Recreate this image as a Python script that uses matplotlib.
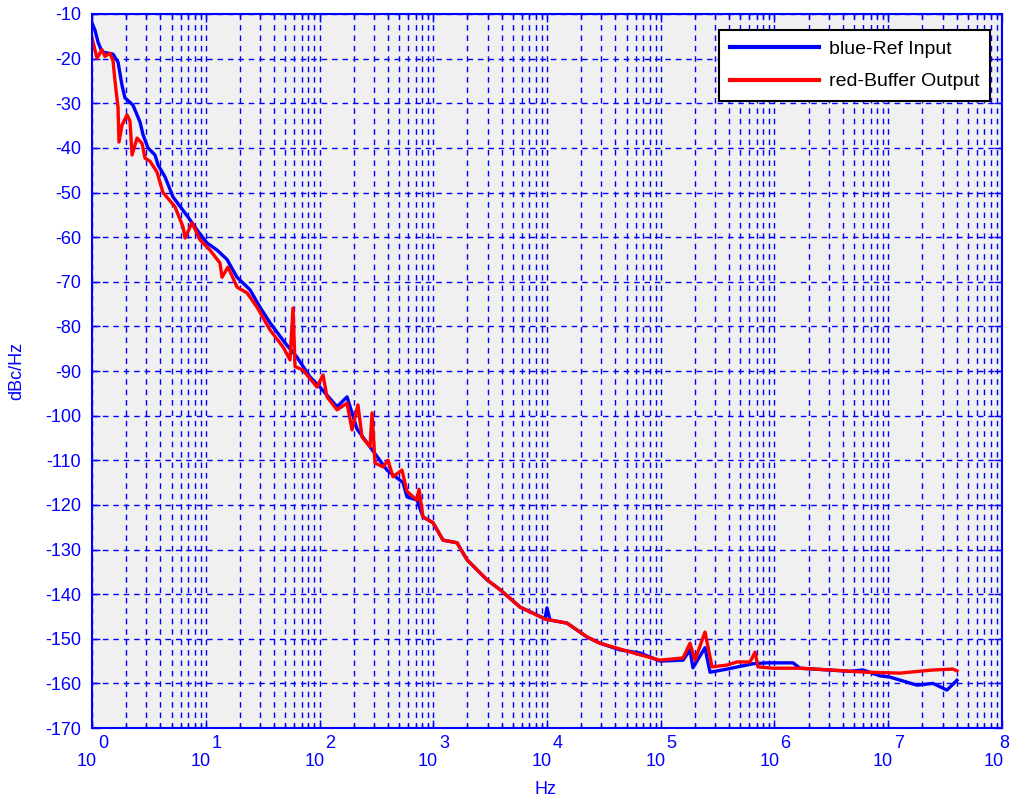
import numpy as np
import matplotlib
matplotlib.use("Agg")
import matplotlib.pyplot as plt
from matplotlib.ticker import LogLocator, NullFormatter, FixedLocator

plt.rcParams['font.family'] = ['Liberation Sans', 'DejaVu Sans']

# log10(frequency in Hz) and phase noise (dBc/Hz)
blue_logf = [0.0, 0.026, 0.053, 0.088, 0.185, 0.229, 0.264, 0.290, 0.360, 0.422,
             0.448, 0.492, 0.554, 0.580, 0.642, 0.712, 0.800, 0.844, 0.923, 1.011,
             1.099, 1.187, 1.275, 1.389, 1.477, 1.565, 1.697, 1.802, 1.916, 2.004,
             2.154, 2.242, 2.330, 2.444, 2.593, 2.734, 2.769, 2.857, 2.910, 2.998,
             3.086, 3.209, 3.297, 3.473, 3.587, 3.763, 3.982, 4.000, 4.026, 4.176,
             4.352, 4.466, 4.642, 4.818, 4.993, 5.196, 5.257, 5.283, 5.389, 5.433,
             5.582, 5.811, 5.934, 6.163, 6.224, 6.664, 6.778, 6.927, 7.015, 7.253,
             7.393, 7.516, 7.604]
blue_db = [-12.0, -13.6, -16.3, -18.5, -19.0, -20.8, -26.0, -28.8, -30.4, -34.2,
           -37.0, -40.0, -41.6, -43.8, -46.5, -51.0, -54.0, -55.5, -58.4, -61.3,
           -62.9, -65.0, -69.0, -71.8, -75.7, -79.2, -83.7, -86.9, -91.3, -93.6,
           -98.0, -95.8, -103.0, -107.0, -112.2, -115.0, -118.2, -118.9, -122.7, -124.0,
           -127.9, -128.5, -132.3, -136.8, -139.0, -142.9, -145.5, -143.1, -145.8, -146.5,
           -149.6, -151.0, -152.5, -153.2, -155.0, -154.8, -152.5, -156.5, -152.0, -157.5,
           -156.8, -155.6, -155.4, -155.4, -156.6, -157.3, -157.0, -158.3, -158.6, -160.4,
           -160.0, -161.5, -159.3]

red_logf = [0.0, 0.044, 0.088, 0.114, 0.158, 0.185, 0.202, 0.229, 0.237, 0.264,
            0.308, 0.334, 0.352, 0.396, 0.440, 0.466, 0.510, 0.571, 0.624, 0.730,
            0.800, 0.818, 0.879, 0.949, 1.037, 1.125, 1.143, 1.196, 1.275, 1.363,
            1.451, 1.565, 1.679, 1.741, 1.767, 1.785, 1.855, 1.978, 2.031, 2.066,
            2.154, 2.242, 2.286, 2.338, 2.374, 2.444, 2.462, 2.488, 2.558, 2.602,
            2.646, 2.725, 2.769, 2.857, 2.875, 2.910, 2.998, 3.086, 3.209, 3.297,
            3.473, 3.587, 3.763, 3.982, 4.026, 4.176, 4.352, 4.466, 4.642, 4.818,
            4.993, 5.196, 5.257, 5.301, 5.389, 5.451, 5.582, 5.670, 5.785, 5.829,
            5.855, 5.987, 6.224, 6.813, 7.103, 7.393, 7.569, 7.604]
red_db = [-15.4, -19.9, -18.0, -19.5, -18.8, -20.5, -25.0, -31.0, -38.7, -34.9,
          -32.6, -34.0, -41.6, -37.8, -39.0, -42.3, -43.0, -45.4, -50.0, -53.2,
          -57.7, -60.2, -56.8, -60.6, -62.9, -65.8, -69.0, -66.7, -71.2, -72.5,
          -75.7, -80.8, -84.6, -87.5, -75.9, -89.0, -89.8, -93.6, -90.9, -95.8,
          -98.7, -97.2, -103.2, -97.6, -104.8, -107.0, -99.4, -110.6, -111.5, -110.0,
          -113.7, -112.2, -117.0, -118.9, -116.5, -122.7, -124.0, -127.9, -128.5, -132.3,
          -136.8, -139.0, -142.9, -145.6, -145.8, -146.5, -149.6, -151.0, -152.3, -153.6,
          -154.8, -154.3, -151.0, -154.8, -148.5, -156.3, -155.9, -155.2, -155.2, -153.0,
          -156.3, -156.6, -156.6, -157.5, -157.7, -157.0, -156.8, -157.2]

labels = ["blue-Ref Input", "red-Buffer Output"]
yticks = list(range(-170, -9, 10))
xexps = list(range(0, 9))

BLUE = '#0000ff'
fig = plt.figure(figsize=(10.11, 8.0), dpi=100)
ax = fig.add_axes([92/1011, 1-728/800, 910/1011, 714/800])
ax.set_facecolor('#f0f0f0')

ax.semilogx(10**np.array(blue_logf), blue_db, color='#0000ff', lw=2.4, label=labels[0])
ax.semilogx(10**np.array(red_logf), red_db, color='#ff0000', lw=2.4, label=labels[1])

ax.set_xlim(1, 1e8)
ax.set_ylim(-170, -10)
ax.set_yticks(yticks)
ax.set_yticklabels([str(v) for v in yticks])
ax.xaxis.set_major_locator(FixedLocator([10.0**e for e in xexps]))
ax.xaxis.set_minor_locator(LogLocator(base=10, subs=np.arange(2, 10), numticks=100))
ax.xaxis.set_major_formatter(NullFormatter())
ax.xaxis.set_minor_formatter(NullFormatter())

gkw = dict(color=BLUE, lw=1.0, linestyle=(0, (4, 3.5)))
ax.grid(True, which='major', axis='both', **gkw)
ax.grid(True, which='minor', axis='x', **gkw)
ax.set_axisbelow(True)

for s in ax.spines.values():
    s.set_color(BLUE)
    s.set_linewidth(1.5)
ax.tick_params(axis='both', which='major', direction='in', length=6, width=1,
               color=BLUE, labelcolor=BLUE, labelsize=13, top=True, right=True, pad=8)
ax.tick_params(axis='x', which='minor', direction='in', length=3, width=1,
               color=BLUE, top=True)

for e in xexps:
    if e < 8:
        dx, ex_off, ex_ha = 5, 6, 'left'
    else:
        dx, ex_off, ex_ha = 2, 7, 'right'
    ax.annotate('10', xy=(10.0**e, 0), xycoords=('data', 'axes fraction'),
                xytext=(dx, -33), textcoords='offset pixels', ha='right', va='center',
                color=BLUE, fontsize=13, annotation_clip=False)
    ax.annotate(str(e), xy=(10.0**e, 0), xycoords=('data', 'axes fraction'),
                xytext=(ex_off, -15), textcoords='offset pixels', ha=ex_ha, va='center',
                color=BLUE, fontsize=13, annotation_clip=False)

fig.text(17/1011, 1-371/800, 'dBc/Hz', rotation=90, ha='center', va='center',
         color=BLUE, fontsize=13)
fig.text(545/1011, 1-789/800, 'Hz', ha='center', va='center', color=BLUE, fontsize=13)

leg = ax.legend(loc='upper right', bbox_to_anchor=(990/1011, 1-30/800),
                bbox_transform=fig.transFigure, borderaxespad=0, fancybox=False,
                framealpha=1, edgecolor='black', fontsize=14, handlelength=4.6,
                handletextpad=0.5, labelspacing=0.75, borderpad=0.55)
leg.get_frame().set_linewidth(1.5)
for l in leg.get_lines():
    l.set_linewidth(3)

fig.savefig('out.png', dpi=100)
